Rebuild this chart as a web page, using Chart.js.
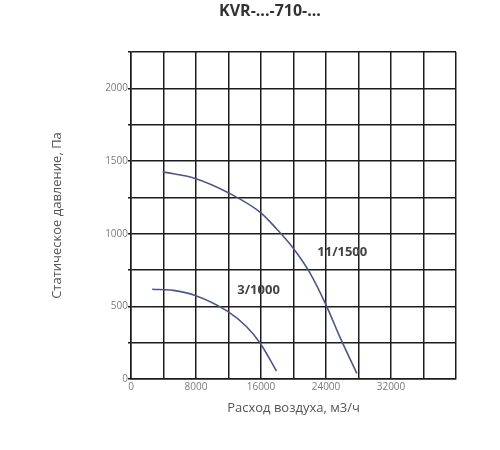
<!DOCTYPE html>
<html>
<head>
<meta charset="utf-8">
<script src="https://cdn.jsdelivr.net/npm/chart.js@4.4.1/dist/chart.umd.min.js"></script>
<style>
  html, body { margin: 0; padding: 0; background: #fff; }
  #wrap { width: 500px; height: 450px; }
</style>
</head>
<body>
<div id="wrap"><canvas id="fanChart" width="500" height="450"></canvas></div>
<script>
// characteristic curves (airflow m3/h, pressure Pa)
const flow11 = [3900, 7900, 12100, 15950, 17900, 19900, 22000, 24000, 25700, 27800];
const pres11 = [1425, 1380, 1278, 1145, 1034, 905, 732, 510, 290, 38];
const flow3 = [2600, 5200, 7900, 11900, 14200, 15900, 17900];
const pres3 = [618, 610, 575, 465, 361, 246, 55];

const seriesNames = ['11/1500', '3/1000'];
// where each series name sits, in data units [flow, pressure]
const nameAnchors = [[26000, 872], [15700, 610]];

const chartTitle = 'KVR-...-710-...';
const xTickLabels = [0, 8000, 16000, 24000, 32000];
const yTickLabels = [0, 500, 1000, 1500, 2000];

const gridColor = '#1c1c1c';
const curveColor = '#4b5789';

function toPoints(xs, ys) {
  return xs.map((x, i) => ({ x: x, y: ys[i] }));
}

// title over the grid and the series names next to the curves
const curveNames = {
  id: 'curveNames',
  afterDatasetsDraw(chart) {
    const ctx = chart.ctx;
    const xs = chart.scales.x;
    const ys = chart.scales.y;
    ctx.save();
    ctx.textAlign = 'center';
    ctx.textBaseline = 'middle';

    ctx.font = 'bold 16px "Open Sans"';
    ctx.fillStyle = '#333';
    ctx.fillText(chartTitle, 270, 11);

    ctx.font = 'bold 13px "Open Sans"';
    ctx.fillStyle = '#444';
    seriesNames.forEach((name, i) => {
      const a = nameAnchors[i];
      ctx.fillText(name, xs.getPixelForValue(a[0]), ys.getPixelForValue(a[1]));
    });
    ctx.restore();
  }
};

const ctx = document.getElementById('fanChart').getContext('2d');

new Chart(ctx, {
  type: 'scatter',
  data: {
    datasets: [
      {
        label: seriesNames[0],
        data: toPoints(flow11, pres11),
        showLine: true,
        borderColor: curveColor,
        borderWidth: 1.6,
        pointRadius: 0,
        cubicInterpolationMode: 'monotone',
      },
      {
        label: seriesNames[1],
        data: toPoints(flow3, pres3),
        showLine: true,
        borderColor: curveColor,
        borderWidth: 1.6,
        pointRadius: 0,
        cubicInterpolationMode: 'monotone',
      }
    ]
  },
  options: {
    responsive: false,
    animation: false,
    layout: { padding: { left: 0, right: 44, top: 52, bottom: 0 } },
    plugins: {
      legend: { display: false },
      tooltip: { enabled: false },
      title: { display: false }
    },
    scales: {
      x: {
        type: 'linear',
        min: 0,
        max: 40000,
        afterFit: (scale) => { scale.height = 71; },
        ticks: {
          stepSize: 4000,
          autoSkip: false,
          maxRotation: 0,
          padding: 2,
          color: '#7a7a7a',
          font: { family: 'Open Sans', size: 10 },
          callback: (v) => xTickLabels.includes(v) ? String(v) : ''
        },
        grid: { color: gridColor, lineWidth: 1.5, drawTicks: false },
        border: { color: gridColor, width: 1.5 },
        title: {
          display: true,
          text: 'Расход воздуха, м3/ч',
          color: '#555',
          font: { family: 'Open Sans', size: 13, lineHeight: 1.2 },
          padding: { top: 0, bottom: 34 }
        }
      },
      y: {
        type: 'linear',
        min: 0,
        max: 2250,
        afterFit: (scale) => { scale.width = 131; },
        ticks: {
          stepSize: 250,
          autoSkip: false,
          padding: 0,
          color: '#7a7a7a',
          font: { family: 'Open Sans', size: 10 },
          callback: (v) => yTickLabels.includes(v) ? String(v) : ''
        },
        grid: { color: gridColor, lineWidth: 1.5, tickLength: 3 },
        border: { color: gridColor, width: 1.5 },
        title: {
          display: true,
          text: 'Статическое давление, Па',
          color: '#555',
          font: { family: 'Open Sans', size: 13, lineHeight: 1.2 },
          padding: { top: 49, bottom: 0 }
        }
      }
    }
  },
  plugins: [curveNames]
});
</script>
</body>
</html>
